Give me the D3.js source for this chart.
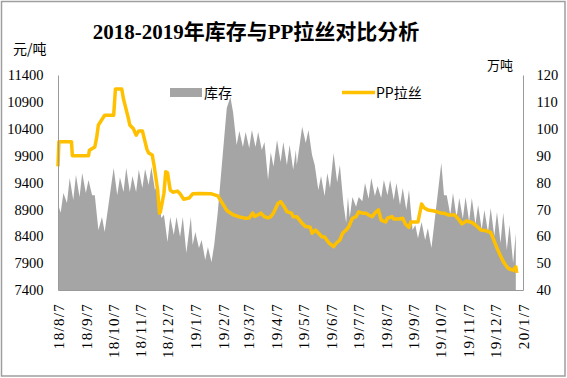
<!DOCTYPE html>
<html><head><meta charset="utf-8">
<script src="https://cdn.jsdelivr.net/npm/d3@7"></script>
<style>body{margin:0;background:#fff} svg{display:block}</style>
</head><body>
<svg id="c" width="567" height="378"></svg>
<script>
// 库存 (万吨, right axis) — weekly sawtooth pattern
const stockDates = [
"2018-08-07","2018-08-10","2018-08-13","2018-08-17","2018-08-20","2018-08-24","2018-08-27","2018-08-31",
"2018-09-03","2018-09-07","2018-09-10","2018-09-14","2018-09-17","2018-09-21","2018-09-25","2018-09-28",
"2018-10-08","2018-10-12","2018-10-15","2018-10-19","2018-10-22","2018-10-26","2018-10-29","2018-11-02",
"2018-11-05","2018-11-09","2018-11-12","2018-11-16","2018-11-19","2018-11-23","2018-11-26","2018-11-30",
"2018-12-03","2018-12-07","2018-12-10","2018-12-14","2018-12-17","2018-12-21","2018-12-24","2018-12-28",
"2019-01-02","2019-01-04","2019-01-07","2019-01-11","2019-01-14","2019-01-18","2019-01-21","2019-01-25",
"2019-01-28","2019-02-01","2019-02-11","2019-02-15","2019-02-18","2019-02-22","2019-02-25","2019-03-01",
"2019-03-04","2019-03-08","2019-03-11","2019-03-15","2019-03-18","2019-03-22","2019-03-25","2019-03-29",
"2019-04-01","2019-04-04","2019-04-08","2019-04-12","2019-04-15","2019-04-19","2019-04-22","2019-04-26",
"2019-04-29","2019-04-30","2019-05-06","2019-05-10","2019-05-13","2019-05-17","2019-05-20","2019-05-24",
"2019-05-27","2019-05-31","2019-06-03","2019-06-06","2019-06-10","2019-06-14","2019-06-17","2019-06-21",
"2019-06-24","2019-06-26","2019-06-28","2019-07-01","2019-07-05","2019-07-08","2019-07-12","2019-07-15",
"2019-07-19","2019-07-22","2019-07-26","2019-07-29","2019-08-02","2019-08-05","2019-08-09","2019-08-12",
"2019-08-16","2019-08-19","2019-08-23","2019-08-26","2019-08-30","2019-09-02","2019-09-06","2019-09-09",
"2019-09-12","2019-09-16","2019-09-20","2019-09-23","2019-09-27","2019-09-30","2019-10-08","2019-10-11",
"2019-10-14","2019-10-18","2019-10-21","2019-10-25","2019-10-28","2019-11-01","2019-11-04","2019-11-08",
"2019-11-11","2019-11-15","2019-11-18","2019-11-22","2019-11-25","2019-11-29","2019-12-02","2019-12-06",
"2019-12-09","2019-12-13","2019-12-16","2019-12-20","2019-12-23","2019-12-27","2019-12-30"];
const stockValues = [
72.0,68.7,76.1,72.4,81.7,73.5,82.8,74.6,
83.5,76.1,80.9,75.3,75.3,62.3,67.2,61.6,
85.4,75.3,82.0,76.5,85.4,76.5,82.4,76.5,
84.7,78.0,85.0,79.1,85.8,77.2,79.1,66.8,
68.0,57.9,67.2,60.5,67.2,59.7,67.2,53.8,
67.2,56.7,61.6,55.6,58.6,51.2,56.0,50.4,
56.7,69.0,107.7,111.8,106.2,94.0,99.2,93.2,
98.8,92.8,99.5,93.2,98.8,92.1,95.1,81.0,
91.3,86.0,95.8,87.6,95.1,86.5,94.0,84.7,
92.1,86.5,100.7,94.7,99.5,90.2,86.5,77.2,
82.4,75.0,83.5,78.0,91.0,80.0,86.5,72.0,
65.0,74.6,67.0,74.6,71.0,74.6,73.0,79.8,
74.0,81.7,75.0,78.7,74.2,80.9,75.3,80.9,
73.5,79.8,71.6,78.0,69.8,77.2,62.3,64.2,
59.3,65.3,58.6,63.1,55.6,64.2,87.3,75.3,
75.3,68.0,76.1,67.0,74.2,66.5,74.6,65.5,
74.2,64.5,71.6,62.5,69.8,61.5,70.5,60.0,
69.0,57.5,68.7,55.0,64.2,50.0,61.2];

// PP拉丝 (元/吨, left axis)
const ppDates = [
"2018-08-07","2018-08-08","2018-08-22","2018-08-23","2018-09-10","2018-09-11","2018-09-17","2018-09-19",
"2018-09-21","2018-09-26","2018-09-28","2018-10-08","2018-10-10","2018-10-17","2018-10-19","2018-10-24",
"2018-10-26","2018-10-30","2018-11-02","2018-11-05","2018-11-09","2018-11-14","2018-11-16","2018-11-20",
"2018-11-22","2018-11-26","2018-11-28","2018-11-29","2018-12-03","2018-12-05","2018-12-07","2018-12-10",
"2018-12-13","2018-12-18","2018-12-21","2018-12-25","2018-12-31","2019-01-04","2019-01-11","2019-01-25",
"2019-02-01","2019-02-11","2019-02-18","2019-02-25","2019-03-04","2019-03-08","2019-03-12","2019-03-14",
"2019-03-18","2019-03-21","2019-03-25","2019-03-29","2019-04-01","2019-04-04","2019-04-09","2019-04-12",
"2019-04-16","2019-04-19","2019-04-24","2019-04-26","2019-04-30","2019-05-06","2019-05-10","2019-05-15",
"2019-05-17","2019-05-21","2019-05-24","2019-05-28","2019-05-31","2019-06-05","2019-06-10","2019-06-12",
"2019-06-17","2019-06-20","2019-06-24","2019-06-27","2019-07-01","2019-07-05","2019-07-08","2019-07-12",
"2019-07-16","2019-07-19","2019-07-23","2019-07-26","2019-07-30","2019-08-02","2019-08-07","2019-08-09",
"2019-08-14","2019-08-16","2019-08-22","2019-08-26","2019-08-29","2019-09-02","2019-09-04","2019-09-12",
"2019-09-16","2019-09-19","2019-09-23","2019-09-30","2019-10-08","2019-10-11","2019-10-16","2019-10-23",
"2019-10-28","2019-10-31","2019-11-05","2019-11-11","2019-11-15","2019-11-21","2019-11-27","2019-12-02",
"2019-12-05","2019-12-09","2019-12-12","2019-12-16","2019-12-20","2019-12-23","2019-12-27","2019-12-30",
"2019-12-31"];
const ppValues = [
9700,10160,10160,9900,9900,10000,10060,10230,
10470,10600,10650,10650,11140,11140,10950,10620,
10470,10400,10280,10360,10360,10020,9950,9910,
9720,9260,8830,8850,9200,9600,9580,9260,
9220,9240,9190,9090,9110,9190,9195,9190,
9150,8880,8800,8760,8735,8740,8830,8770,
8800,8830,8765,8740,8765,8830,9010,9045,
8950,8860,8830,8765,8765,8640,8580,8570,
8455,8515,8460,8390,8385,8270,8205,8255,
8330,8455,8515,8580,8735,8765,8855,8830,
8830,8795,8765,8830,8890,8700,8665,8735,
8765,8720,8720,8735,8630,8565,8665,8665,
9000,8925,8890,8870,8830,8830,8795,8795,
8700,8630,8685,8655,8610,8515,8500,8470,
8350,8180,8070,7930,7830,7790,7770,7830,
7715];

const xTickDates = ["2018-08-07","2018-09-07","2018-10-07","2018-11-07","2018-12-07","2019-01-07",
"2019-02-07","2019-03-07","2019-04-07","2019-05-07","2019-06-07","2019-07-07","2019-08-07",
"2019-09-07","2019-10-07","2019-11-07","2019-12-07","2020-01-07"];
const leftTicks = [7400,7900,8400,8900,9400,9900,10400,10900,11400];
const rightTicks = [40,50,60,70,80,90,100,110,120];

const parse = d3.timeParse("%Y-%m-%d");
const stock = stockDates.map((d,i)=>({date:parse(d), v:stockValues[i]}));
const pp = ppDates.map((d,i)=>({date:parse(d), v:ppValues[i]}));

const L=58, R=523, T=75, B=290;
const svg = d3.select("#c");
svg.append("rect").attr("x",0).attr("y",0).attr("width",567).attr("height",378).attr("fill","#fff");
svg.append("rect").attr("x",1.5).attr("y",1.5).attr("width",563.5).attr("height",374.5)
  .attr("fill","none").attr("stroke","#9e9e9e").attr("stroke-width",1.5);

const x = d3.scaleTime().domain([parse(xTickDates[0]), parse(xTickDates[xTickDates.length-1])]).range([L,R]);
const yL = d3.scaleLinear().domain([7400,11400]).range([B,T]);
const yR = d3.scaleLinear().domain([40,120]).range([B,T]);

const grey="#a5a5a5", gold="#ffc000";

svg.append("path").datum(stock)
  .attr("d", d3.area().x(d=>x(d.date)).y0(yR(40)).y1(d=>yR(d.v)))
  .attr("fill", grey);

svg.append("path").datum(pp)
  .attr("d", d3.line().x(d=>x(d.date)).y(d=>yL(d.v)))
  .attr("fill","none").attr("stroke",gold).attr("stroke-width",3.5).attr("stroke-linejoin","round");

const numFont = "'Liberation Serif','Times New Roman',serif";
const cjk = "'Noto Sans CJK SC','Noto Sans',sans-serif";

function styleAxis(g){
  g.select(".domain").attr("stroke","#9a9a9a").attr("stroke-width",1);
  g.selectAll(".tick line").remove();
  g.selectAll("text").attr("font-family",numFont).attr("fill","#000");
}

svg.append("g").attr("transform",`translate(${L},0)`)
  .call(d3.axisLeft(yL).tickValues(leftTicks).tickSize(0).tickSizeOuter(0).tickPadding(14.5).tickFormat(d3.format("d")))
  .call(styleAxis).call(g=>g.selectAll("text").attr("font-size","14.5px"));

svg.append("g").attr("transform",`translate(${R},0)`)
  .call(d3.axisRight(yR).tickValues(rightTicks).tickSize(0).tickSizeOuter(0).tickPadding(13.5).tickFormat(d3.format("d")))
  .call(styleAxis).call(g=>g.selectAll("text").attr("font-size","14.5px"));

const fmt = d3.timeFormat("%y/%-m/%-d");
svg.append("g").attr("transform",`translate(0,${B})`)
  .call(d3.axisBottom(x).tickValues(xTickDates.map(parse)).tickSize(0).tickSizeOuter(0).tickFormat(fmt))
  .call(styleAxis)
  .call(g=>g.selectAll("text")
     .attr("font-size","15px").attr("letter-spacing","1.3px")
     .attr("transform","rotate(-90)").attr("text-anchor","end")
     .attr("x",-13).attr("y",0).attr("dy","0.36em"));

// title and unit labels
svg.append("text").attr("x",256).attr("y",39).attr("text-anchor","middle")
  .attr("font-family",`${numFont.split(",")[0]},${cjk}`).attr("font-size","21px").attr("font-weight","bold")
  .text("2018-2019年库存与PP拉丝对比分析");
svg.append("text").attr("x",13).attr("y",54).attr("font-family",cjk).attr("font-size","14px").text("元/吨");
svg.append("text").attr("x",487).attr("y",70).attr("font-family",cjk).attr("font-size","13px").text("万吨");

// legend
svg.append("rect").attr("x",170).attr("y",88).attr("width",32).attr("height",9).attr("fill",grey);
svg.append("text").attr("x",204).attr("y",97.5).attr("font-family",cjk).attr("font-size","14px").text("库存");
svg.append("line").attr("x1",342).attr("x2",375).attr("y1",92.5).attr("y2",92.5).attr("stroke",gold).attr("stroke-width",3.5);
svg.append("text").attr("x",376).attr("y",97.5).attr("font-family",cjk).attr("font-size","14px").text("PP拉丝");
</script>
</body></html>
